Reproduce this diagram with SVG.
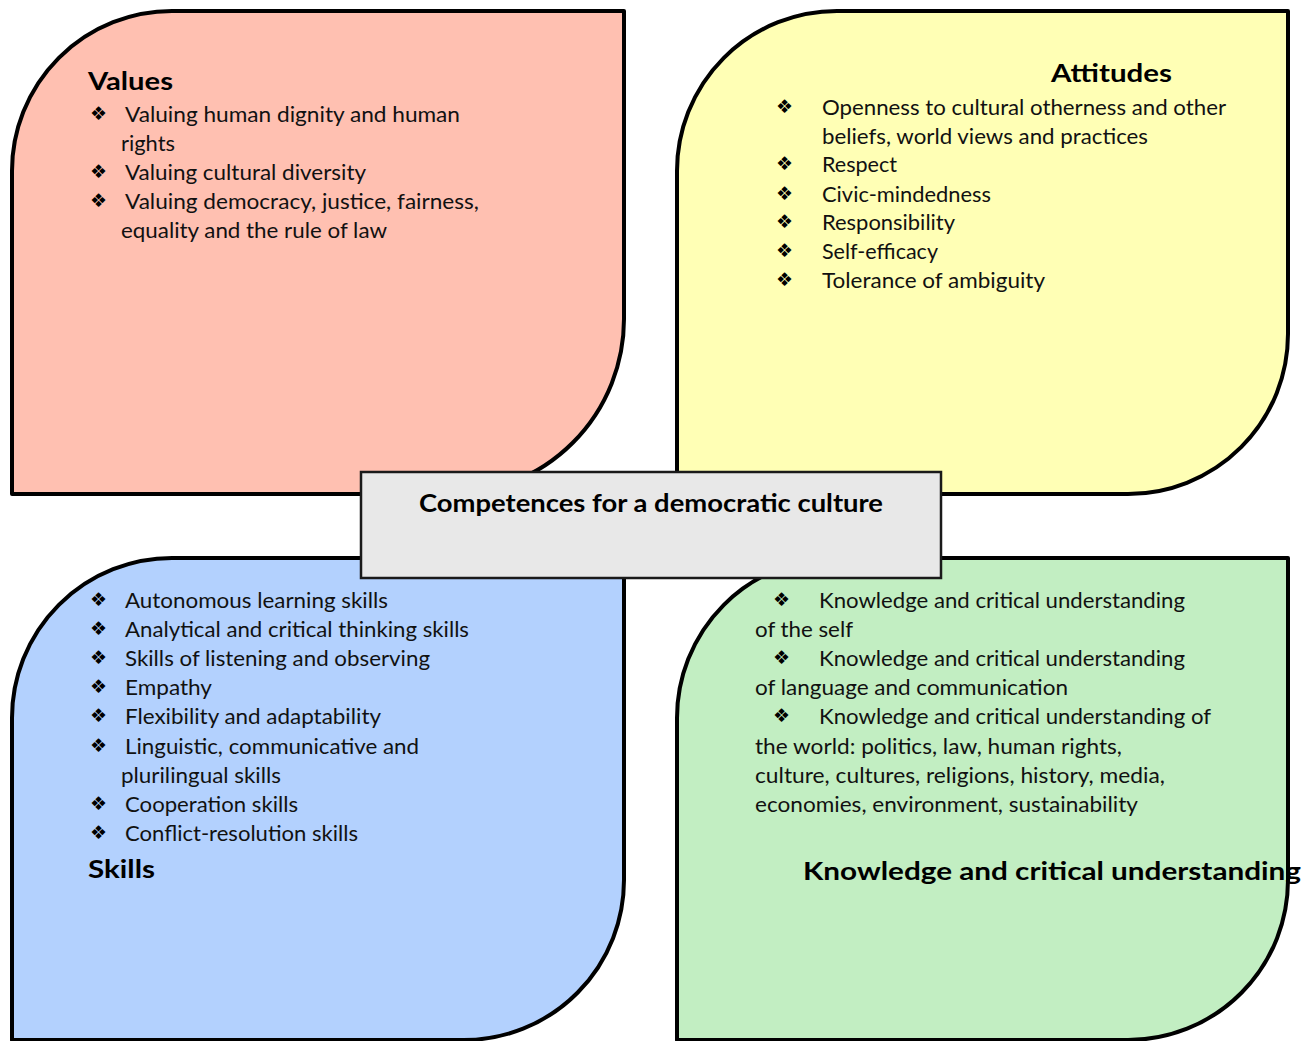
<svg xmlns="http://www.w3.org/2000/svg" width="1316" height="1041" viewBox="0 0 1316 1041">
<style>
.leaf{stroke:#000;stroke-width:4;stroke-linejoin:round}
.t{font-family:Lato,"Liberation Sans",sans-serif;font-size:21.5px;fill:#111}
.h{font-family:Lato,"Liberation Sans",sans-serif;font-size:25px;font-weight:bold;fill:#000}
.b{font-family:"DejaVu Sans",sans-serif;font-size:19px;fill:#000}
</style>
<rect width="1316" height="1041" fill="#fff"/>
<g id="values">
<path class="leaf" fill="#FFC0B1" d="M12,171 A160,160 0 0 1 172,11 L624,11 L624,319 A175,175 0 0 1 449,494 L12,494 Z"/>
</g>
<g id="attitudes">
<path class="leaf" fill="#FFFFB5" d="M677,171 A160,160 0 0 1 837,11 L1288,11 L1288,334 A160,160 0 0 1 1128,494 L677,494 Z"/>
</g>
<g id="skills">
<path class="leaf" fill="#B3D1FE" d="M12,718 A160,160 0 0 1 172,558 L624,558 L624,879 A160,160 0 0 1 464,1040 L12,1040 Z"/>
</g>
<g id="knowledge">
<path class="leaf" fill="#C2EEC2" d="M677,718 A160,160 0 0 1 837,558 L1288,558 L1288,879 A160,160 0 0 1 1128,1040 L677,1040 Z"/>
</g>
<g id="center">
<rect x="361" y="472" width="580" height="106" fill="#E8E8E8" stroke="#1a1a1a" stroke-width="2.5"/>
<text class="h" x="419" y="512" font-size="23" textLength="464" lengthAdjust="spacingAndGlyphs">Competences for a democratic culture</text>
</g>
<g id="connectors"></g>
<g id="values-text">
<text class="h" x="88" y="90" font-size="27" textLength="85" lengthAdjust="spacingAndGlyphs">Values</text>
<text class="b" x="90" y="120">❖</text>
<text class="b" x="90" y="178">❖</text>
<text class="b" x="90" y="207">❖</text>
<text class="t" x="125" y="122" textLength="335" lengthAdjust="spacingAndGlyphs">Valuing human dignity and human</text>
<text class="t" x="121" y="151" textLength="54" lengthAdjust="spacingAndGlyphs">rights</text>
<text class="t" x="125" y="180" textLength="241" lengthAdjust="spacingAndGlyphs">Valuing cultural diversity</text>
<text class="t" x="125" y="209" textLength="354" lengthAdjust="spacingAndGlyphs">Valuing democracy, justice, fairness,</text>
<text class="t" x="121" y="238" textLength="266" lengthAdjust="spacingAndGlyphs">equality and the rule of law</text>
</g>
<g id="attitudes-text">
<text class="h" x="1051" y="82" textLength="121" lengthAdjust="spacingAndGlyphs">Attitudes</text>
<text class="b" x="776" y="113">❖</text>
<text class="b" x="776" y="170">❖</text>
<text class="b" x="776" y="200">❖</text>
<text class="b" x="776" y="228">❖</text>
<text class="b" x="776" y="257">❖</text>
<text class="b" x="776" y="286">❖</text>
<text class="t" x="822" y="115" textLength="404" lengthAdjust="spacingAndGlyphs">Openness to cultural otherness and other</text>
<text class="t" x="822" y="144" textLength="326" lengthAdjust="spacingAndGlyphs">beliefs, world views and practices</text>
<text class="t" x="822" y="172" textLength="75" lengthAdjust="spacingAndGlyphs">Respect</text>
<text class="t" x="822" y="202" textLength="169" lengthAdjust="spacingAndGlyphs">Civic-mindedness</text>
<text class="t" x="822" y="230" textLength="133" lengthAdjust="spacingAndGlyphs">Responsibility</text>
<text class="t" x="822" y="259" textLength="116" lengthAdjust="spacingAndGlyphs">Self-efficacy</text>
<text class="t" x="822" y="288" textLength="223" lengthAdjust="spacingAndGlyphs">Tolerance of ambiguity</text>
</g>
<g id="skills-text">
<text class="b" x="90" y="606">❖</text>
<text class="b" x="90" y="635">❖</text>
<text class="b" x="90" y="664">❖</text>
<text class="b" x="90" y="693">❖</text>
<text class="b" x="90" y="722">❖</text>
<text class="b" x="90" y="752">❖</text>
<text class="b" x="90" y="810">❖</text>
<text class="b" x="90" y="839">❖</text>
<text class="t" x="125" y="608" textLength="263" lengthAdjust="spacingAndGlyphs">Autonomous learning skills</text>
<text class="t" x="125" y="637" textLength="344" lengthAdjust="spacingAndGlyphs">Analytical and critical thinking skills</text>
<text class="t" x="125" y="666" textLength="305" lengthAdjust="spacingAndGlyphs">Skills of listening and observing</text>
<text class="t" x="125" y="695" textLength="87" lengthAdjust="spacingAndGlyphs">Empathy</text>
<text class="t" x="125" y="724" textLength="256" lengthAdjust="spacingAndGlyphs">Flexibility and adaptability</text>
<text class="t" x="125" y="754" textLength="294" lengthAdjust="spacingAndGlyphs">Linguistic, communicative and</text>
<text class="t" x="121" y="783" textLength="160" lengthAdjust="spacingAndGlyphs">plurilingual skills</text>
<text class="t" x="125" y="812" textLength="173" lengthAdjust="spacingAndGlyphs">Cooperation skills</text>
<text class="t" x="125" y="841" textLength="233" lengthAdjust="spacingAndGlyphs">Conflict-resolution skills</text>
<text class="h" x="88" y="878" textLength="67" lengthAdjust="spacingAndGlyphs">Skills</text>
</g>
<g id="knowledge-text">
<text class="b" x="773" y="606">❖</text>
<text class="b" x="773" y="664">❖</text>
<text class="b" x="773" y="722">❖</text>
<text class="t" x="819" y="608" textLength="366" lengthAdjust="spacingAndGlyphs">Knowledge and critical understanding</text>
<text class="t" x="755" y="637" textLength="98" lengthAdjust="spacingAndGlyphs">of the self</text>
<text class="t" x="819" y="666" textLength="366" lengthAdjust="spacingAndGlyphs">Knowledge and critical understanding</text>
<text class="t" x="755" y="695" textLength="313" lengthAdjust="spacingAndGlyphs">of language and communication</text>
<text class="t" x="819" y="724" textLength="392" lengthAdjust="spacingAndGlyphs">Knowledge and critical understanding of</text>
<text class="t" x="755" y="754" textLength="367" lengthAdjust="spacingAndGlyphs">the world: politics, law, human rights,</text>
<text class="t" x="755" y="783" textLength="410" lengthAdjust="spacingAndGlyphs">culture, cultures, religions, history, media,</text>
<text class="t" x="755" y="812" textLength="383" lengthAdjust="spacingAndGlyphs">economies, environment, sustainability</text>
<text class="h" x="803" y="880" textLength="498" lengthAdjust="spacingAndGlyphs">Knowledge and critical understanding</text>
</g>
</svg>
